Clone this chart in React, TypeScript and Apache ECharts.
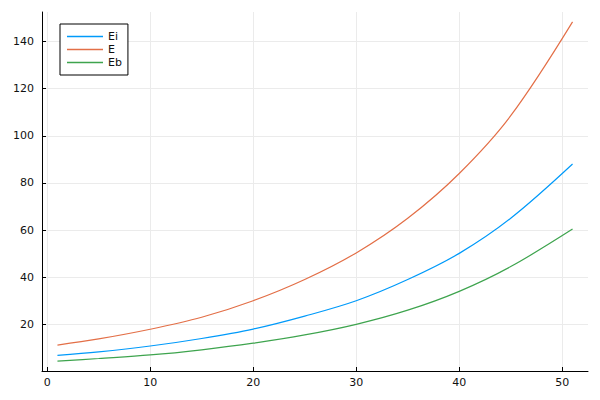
import React, { useEffect, useRef } from "react";
import * as echarts from "echarts";

// Readings at selected x positions
const xs = [1, 5, 10, 15, 20, 25, 30, 35, 40, 45, 51];
const eiValues = [6.8, 8.3, 10.8, 14.0, 18.0, 23.5, 30.0, 39.0, 50.1, 65.0, 88.0];
const eValues = [11.2, 13.8, 17.9, 23.0, 30.0, 39.0, 50.3, 65.0, 84.0, 108.5, 148.3];
const ebValues = [4.4, 5.5, 7.0, 9.2, 12.0, 15.5, 20.0, 26.0, 34.0, 44.5, 60.4];

const seriesNames = ["Ei", "E", "Eb"];
const seriesColors = ["#009AFA", "#E36F47", "#3EA44E"];
const xTicks = [0, 10, 20, 30, 40, 50];
const yTicks = [20, 40, 60, 80, 100, 120, 140];

export default function App() {
  const ref = useRef<HTMLDivElement>(null);
  useEffect(() => {
    if (!ref.current) return;
    const chart = echarts.init(ref.current, undefined, { renderer: "svg" });
    const all = [eiValues, eValues, ebValues];
    const font = "DejaVu Sans";
    chart.setOption({
      animation: false,
      backgroundColor: "#ffffff",
      grid: { left: 42, top: 12, right: 12, bottom: 29, containLabel: false },
      legend: {
        orient: "vertical",
        left: 60,
        top: 24,
        data: seriesNames,
        icon: "rect",
        itemWidth: 36,
        itemHeight: 1.5,
        itemGap: 0,
        itemStyle: { borderWidth: 0 },
        textStyle: { fontFamily: font, fontSize: 11, color: "#111", lineHeight: 13 },
        padding: [6, 6, 6, 7],
        backgroundColor: "#ffffff",
        borderColor: "#000000",
        borderWidth: 1,
        borderRadius: 0,
      },
      xAxis: {
        type: "value",
        min: -0.5,
        max: 52.5,
        axisLine: { show: true, onZero: false, lineStyle: { color: "#000", width: 1 } },
        axisTick: { show: true, inside: true, length: 4, customValues: xTicks, lineStyle: { color: "#000" } },
        axisLabel: { customValues: xTicks, margin: 6, fontFamily: font, fontSize: 11, color: "#111" },
        splitLine: { show: true, lineStyle: { color: "#ebebeb", width: 1 } },
      },
      yAxis: {
        type: "value",
        min: 0.2,
        max: 152.5,
        axisLine: { show: true, onZero: false, lineStyle: { color: "#000", width: 1 } },
        axisTick: { show: true, inside: true, length: 4, customValues: yTicks, lineStyle: { color: "#000" } },
        axisLabel: { customValues: yTicks, margin: 8, fontFamily: font, fontSize: 11, color: "#111" },
        splitLine: { show: true, lineStyle: { color: "#ebebeb", width: 1 } },
      },
      series: seriesNames.map((name, i) => ({
        name,
        type: "line",
        data: xs.map((x, j) => [x, all[i][j]]),
        smooth: 0.35,
        symbol: "none",
        lineStyle: { color: seriesColors[i], width: 1.2 },
        itemStyle: { color: seriesColors[i] },
      })),
    });
    return () => chart.dispose();
  }, []);
  return (
    <div
      ref={ref}
      style={{ position: "fixed", left: 0, top: 0, width: 600, height: 400 }}
    />
  );
}
